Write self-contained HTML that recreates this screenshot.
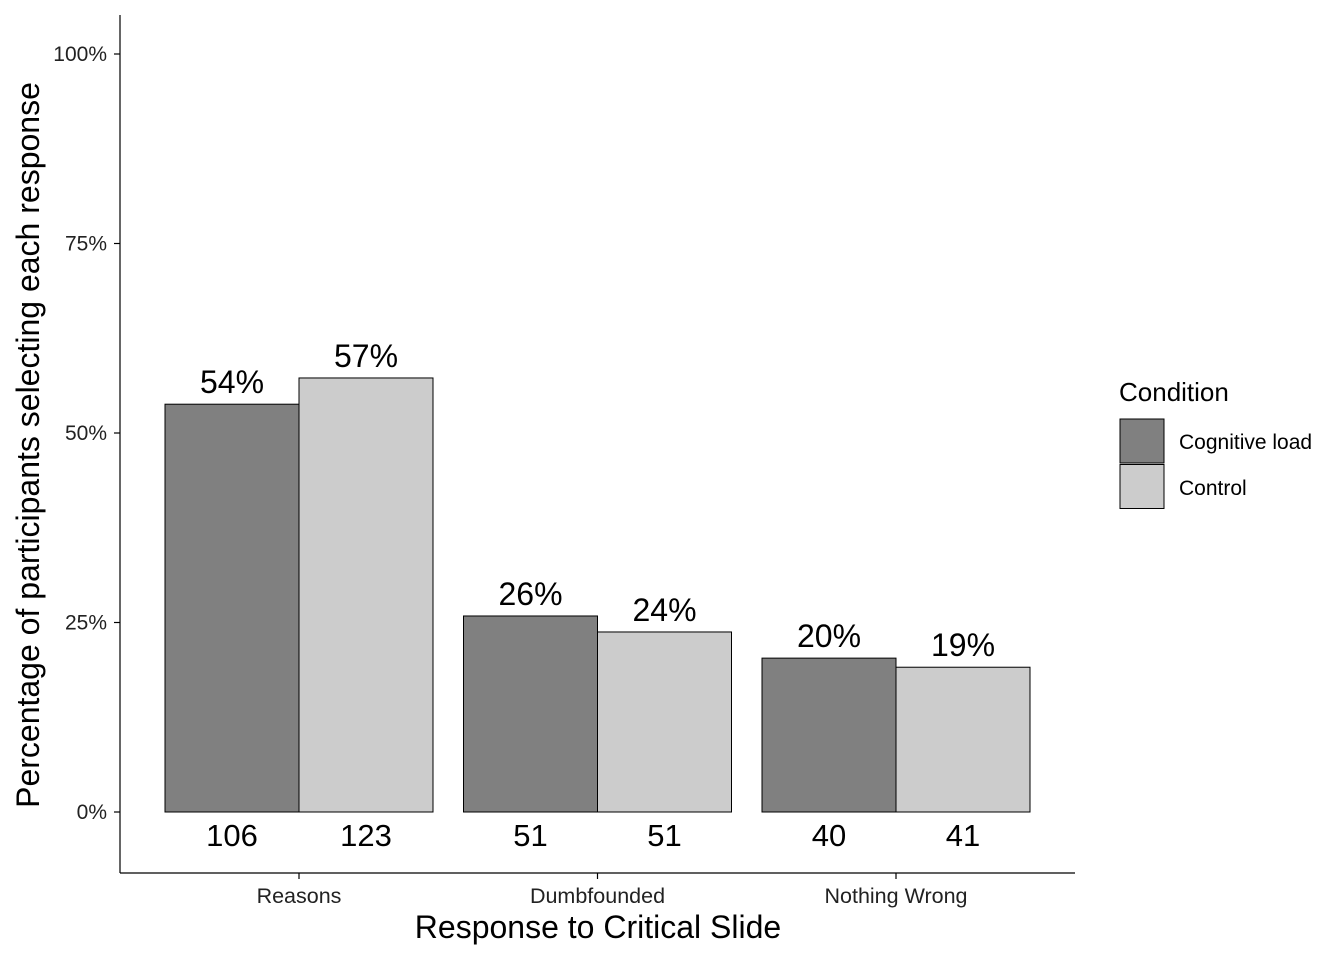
<!DOCTYPE html>
<html><head><meta charset="utf-8"><style>
body{margin:0;background:#fff;}
svg text{font-family:"Liberation Sans",Arial,sans-serif;}
</style></head><body>
<svg width="1344" height="960" viewBox="0 0 1344 960">
<g id="plot"></g>
</svg>
<script>
const categories=["Reasons","Dumbfounded","Nothing Wrong"];
const conditions=["Cognitive load","Control"];
const loadValues=[0.538,0.2586,0.203];
const controlValues=[0.5726,0.2375,0.191];
const loadPctLabels=["54%","26%","20%"];
const controlPctLabels=["57%","24%","19%"];
const loadCounts=["106","51","40"];
const controlCounts=["123","51","41"];
const yTicks=[0,0.25,0.5,0.75,1];
const yTickLabels=["0%","25%","50%","75%","100%"];
const colors=["#808080","#cccccc"];

const NS="http://www.w3.org/2000/svg";
const g=document.getElementById('plot');
function y(v){return 812-v*758;}
function xc(i){return 299+i*298.5;}
const bw=134;
function el(t,a,txt){const e=document.createElementNS(NS,t);for(const k in a)e.setAttribute(k,a[k]);if(txt!==undefined)e.textContent=txt;g.appendChild(e);return e;}

let e=el('line',{x1:120,y1:15,x2:120,y2:873,stroke:'#000','stroke-width':1.2});


e=el('line',{x1:120,y1:873,x2:1075,y2:873,stroke:'#000','stroke-width':1.2});



yTicks.forEach((t,i)=>{
 e=el('line',{x1:114,x2:120,y1:y(t),y2:y(t),stroke:'#000','stroke-width':1.2});
 
 
 e=el('text',{x:107,y:y(t)+7,'text-anchor':'end','font-size':21,fill:'#222'},yTickLabels[i]);
 
 
});

const series=[[loadValues,loadPctLabels,loadCounts],[controlValues,controlPctLabels,controlCounts]];
categories.forEach((c,i)=>{
 series.forEach((s,j)=>{
  const x0=xc(i)-bw+j*bw;
  const v=s[0][i];
  e=el('rect',{x:x0,y:y(v),width:bw,height:y(0)-y(v),fill:colors[j],stroke:'#000','stroke-width':1});
  
  
  e=el('text',{x:x0+bw/2,y:y(v)-11,'text-anchor':'middle','font-size':32,fill:'#000'},s[1][i]);
  
  
  e=el('text',{x:x0+bw/2,y:846,'text-anchor':'middle','font-size':31,fill:'#000'},s[2][i]);
  
  
 });
 e=el('line',{x1:xc(i),x2:xc(i),y1:873,y2:879,stroke:'#000','stroke-width':1.2});
 
 
 e=el('text',{x:xc(i),y:903,'text-anchor':'middle','font-size':21.5,fill:'#222'},c);
 
 
});

e=el('text',{x:598,y:938,'text-anchor':'middle','font-size':32,fill:'#000'},'Response to Critical Slide');


e=el('text',{x:0,y:0,'text-anchor':'middle','font-size':32,fill:'#000',transform:'translate(39,445) rotate(-90)'},'Percentage of participants selecting each response');



e=el('text',{x:1119,y:401,'font-size':26,fill:'#000'},'Condition');


conditions.forEach((c,j)=>{
 e=el('rect',{x:1120,y:419+j*45.5,width:44,height:44,fill:colors[j],stroke:'#000','stroke-width':1});
 
 
 e=el('text',{x:1179,y:449+j*46,'font-size':21,fill:'#000'},c);
 
 
});
</script>
</body></html>
